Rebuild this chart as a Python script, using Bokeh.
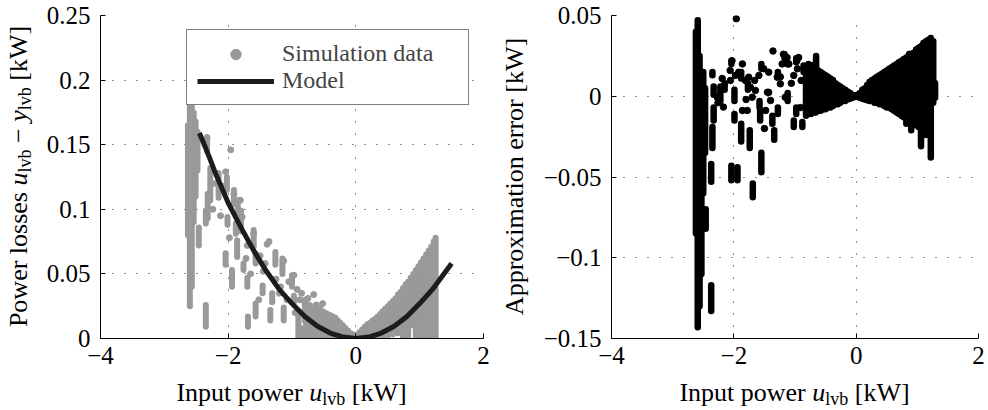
from bokeh.plotting import figure
from bokeh.layouts import row, column
from bokeh.models import (Range1d, FixedTicker, CustomJSTickFormatter, Div,
                          Legend, LegendItem)
from bokeh.embed import file_html
from bokeh.resources import INLINE

# ---------------- data ----------------
x_ticks = [-4, -2, 0, 2]
loss_ticks = [0, 0.05, 0.1, 0.15, 0.2, 0.25]
err_ticks = [-0.15, -0.1, -0.05, 0, 0.05]

# model curve (power losses vs input power)
model_x = [-2.45, -2.3, -2.2, -2.0, -1.8, -1.6, -1.4, -1.2, -1.0, -0.8, -0.6,
           -0.4, -0.2, 0.0, 0.2, 0.4, 0.6, 0.8, 1.0, 1.2, 1.35, 1.5]
model_y = [0.159, 0.141, 0.128, 0.105, 0.086, 0.068, 0.052, 0.038, 0.027,
           0.017, 0.0095, 0.0042, 0.0011, 0.0, 0.0011, 0.0042, 0.0095, 0.017,
           0.027, 0.038, 0.048, 0.058]

# simulation data: isolated samples
sim_dot_x = [-2.33, -1.96, -2.04, -1.78, -1.36, -0.97, -1.13, -1.39, -1.60,
             -1.81, -1.91, -2.10, -1.70, -1.50, -1.25, -1.05, -0.92, -0.88,
             -2.20, -1.65, -1.45, -1.20, -0.85, -0.80, -0.75, -0.70, -0.62,
             -0.58, -2.24, -2.12, -1.98, -1.72, -1.52, -1.42, -1.18, -1.08,
             -0.95, -0.78, -0.66, -0.52]
sim_dot_y = [0.155, 0.146, 0.129, 0.094, 0.075, 0.049, 0.060, 0.073, 0.081,
             0.107, 0.112, 0.118, 0.072, 0.064, 0.046, 0.044, 0.038, 0.030,
             0.120, 0.050, 0.052, 0.035, 0.035, 0.028, 0.031, 0.022, 0.026,
             0.018, 0.100, 0.095, 0.078, 0.062, 0.030, 0.058, 0.040, 0.030,
             0.020, 0.012, 0.034, 0.027]

# simulation data: vertical runs of stacked samples (x, lowest, highest)
sim_run_x = [-2.63, -2.60, -2.57, -2.54, -2.51, -2.48, -2.46, -2.35, -2.35,
             -2.33, -2.32, -2.28, -2.15, -2.02, -2.01, -2.04, -1.94, -1.91,
             -1.88, -1.86, -1.85, -1.80, -1.76, -1.70, -1.69, -1.60, -1.57,
             -1.57, -1.46, -1.34, -1.31, -1.26, -1.15, -1.13, -1.00, -0.97,
             -0.90,
             -0.84, -0.80, -0.76, -0.72, -0.68, -0.64, -0.60, -0.56, -0.52,
             -0.48, -0.44, -0.40, -0.36, -0.32, -0.28, -0.24, -0.20, -0.16,
             -0.12, -0.08, -0.04,
             0.02, 0.06, 0.10, 0.14, 0.18, 0.22, 0.26, 0.30, 0.34, 0.38, 0.42,
             0.46, 0.50, 0.54, 0.58, 0.62, 0.66, 0.70, 0.74, 0.78, 0.82, 0.86,
             0.90, 0.94, 0.98, 1.02, 1.06, 1.10, 1.14, 1.18, 1.22, 1.25]
sim_run_lo = [0.080, 0.025, 0.040, 0.090, 0.110, 0.130, 0.072, 0.009, 0.089,
              0.145, 0.093, 0.107, 0.109, 0.115, 0.088, 0.057, 0.040, 0.104,
              0.081, 0.063, 0.097, 0.083, 0.053, 0.040, 0.009, 0.071, 0.058,
              0.017, 0.035, 0.014, 0.028, 0.057, 0.050, 0.014, 0.040, 0.028,
              0.001,
              0.000, 0.014, 0.000, 0.016, 0.000, 0.006, 0.000, 0.002, 0.000,
              0.000, 0.000, 0.000, 0.000, 0.000, 0.000, 0.000, 0.000, 0.000,
              0.000, 0.000, 0.000,
              0.000, 0.000, 0.000, 0.000, 0.000, 0.000, 0.000, 0.001, 0.000,
              0.002, 0.001, 0.003, 0.002, 0.004, 0.003, 0.005, 0.004, 0.006,
              0.000, 0.008, 0.000, 0.010, 0.012, 0.000, 0.014, 0.000, 0.016,
              0.000, 0.000, 0.000, 0.000, 0.000]
sim_run_hi = [0.165, 0.180, 0.188, 0.175, 0.168, 0.160, 0.086, 0.026, 0.099,
              0.156, 0.112, 0.132, 0.128, 0.125, 0.094, 0.066, 0.053, 0.115,
              0.089, 0.076, 0.107, 0.099, 0.058, 0.047, 0.017, 0.084, 0.066,
              0.027, 0.041, 0.022, 0.035, 0.067, 0.062, 0.024, 0.049, 0.033,
              0.017,
              0.008, 0.030, 0.012, 0.026, 0.018, 0.024, 0.014, 0.023, 0.021,
              0.020, 0.019, 0.018, 0.017, 0.016, 0.014, 0.012, 0.010, 0.008,
              0.006, 0.004, 0.003,
              0.003, 0.005, 0.007, 0.009, 0.011, 0.012, 0.014, 0.015, 0.017,
              0.019, 0.021, 0.023, 0.025, 0.027, 0.029, 0.031, 0.034, 0.036,
              0.039, 0.042, 0.044, 0.047, 0.050, 0.053, 0.056, 0.059, 0.062,
              0.065, 0.068, 0.071, 0.075, 0.078]

# approximation error: isolated samples
err_dot_x = [-1.96, -1.36, -1.12, -1.66, -1.45, -1.06, -0.96, -0.90, -1.86,
             -2.03, -2.06, -1.43, -1.19, -1.13, -0.94, -1.24, -1.16, -0.91,
             -2.19, -2.26, -1.80, -1.50, 0.87,
             -2.056, -1.974, -1.92, -1.81, -1.757, -1.73, -1.70, -1.647,
             -1.59, -1.51, -1.43, -1.29, -1.24, -1.21, -1.13, -1.10, -1.02,
             -0.97, -0.83, -0.80, -0.72, -1.40, -1.48, -1.86, -1.78, -2.17,
             -2.27]
err_dot_y = [0.048, 0.028, 0.020, 0.0098, 0.0025, 0.008, 0.017, 0.0098,
             0.020, 0.022, 0.016, 0.0024, 0.026, 0.021, 0.024, 0.012, -0.0006,
             -0.007, 0.011, -0.004, -0.002, -0.020, 0.026,
             0.0098, 0.0129, 0.0149, 0.0098, 0.0118, 0.0056, -0.0006, 0.0036,
             0.0129, 0.017, 0.0149, 0.0118, 0.0077, 0.020, 0.024, 0.020,
             0.0129, 0.022, 0.016, 0.0118, 0.019, -0.0026, -0.0088, -0.0088,
             -0.0088, -0.0067, -0.0006]

# approximation error: vertical runs (x, lowest, highest)
err_run_x = [-2.62, -2.59, -2.56, -2.53, -2.50, -2.46, -2.47, -2.37, -2.35,
             -2.37, -2.33, -2.33, -2.35, -2.22, -2.15, -2.04, -2.04, -1.99,
             -1.99, -1.94, -1.88, -1.88, -1.77, -1.74, -1.69, -1.58, -1.57,
             -1.55, -1.55, -1.37, -1.34, -1.28, -1.28, -1.17, -1.12, -1.02,
             -0.98, -0.98, -0.88, -0.86, -0.79, -0.76, -0.655,
             -0.82, -0.78, -0.74, -0.70, -0.66, -0.62, -0.58, -0.54, -0.50,
             -0.46, -0.42, -0.38, -0.34, -0.30, -0.26, -0.22, -0.18, -0.14,
             -0.10, -0.06, -0.02,
             0.02, 0.06, 0.10, 0.14, 0.18, 0.22, 0.26, 0.30, 0.34, 0.38, 0.42,
             0.46, 0.50, 0.54, 0.58, 0.62, 0.66, 0.70, 0.74, 0.78, 0.82, 0.86,
             0.90, 0.94, 0.98, 1.02, 1.06, 1.10, 1.14, 1.18, 1.22, 1.26, 1.29]
err_run_lo = [-0.085, -0.143, -0.130, -0.110, -0.060, -0.082, -0.035, -0.133,
              -0.032, -0.053, -0.015, 0.001, 0.013, -0.003, 0.004, -0.052,
              0.020, -0.015, -0.003, -0.052, -0.028, 0.011, 0.004, -0.032,
              -0.0625, -0.007, -0.015, -0.047, 0.017, -0.017, -0.027, 0.012,
              -0.011, 0.0235, -0.003, -0.019, -0.011, 0.021, -0.019, 0.015,
              -0.010, 0.014, 0.018,
              -0.012, -0.011, -0.011, -0.010, -0.010, -0.009, -0.009, -0.008,
              -0.008, -0.007, -0.007, -0.006, -0.005, -0.005, -0.004, -0.003,
              -0.003, -0.002, -0.0015, -0.001, -0.0005,
              -0.0005, -0.001, -0.0015, -0.002, -0.0025, -0.003, -0.003,
              -0.004, -0.004, -0.005, -0.005, -0.006, -0.007, -0.007, -0.008,
              -0.009, -0.010, -0.011, -0.012, -0.013, -0.017, -0.015, -0.021,
              -0.016, -0.018, -0.019, -0.031, -0.022, -0.024, -0.020, -0.038,
              -0.004, -0.001]
err_run_hi = [0.040, 0.047, 0.025, 0.010, 0.015, -0.070, 0.005, -0.117,
              -0.019, -0.042, -0.007, 0.006, 0.015, 0.006, 0.008, -0.043,
              0.022, -0.011, 0.004, -0.044, -0.017, 0.015, 0.008, -0.021,
              -0.054, -0.003, -0.009, -0.035, 0.020, -0.012, -0.021, 0.015,
              -0.007, 0.026, 0.002, -0.015, -0.007, 0.0235, -0.016, 0.019,
              -0.007, 0.017, 0.025,
              0.016, 0.020, 0.019, 0.018, 0.017, 0.016, 0.015, 0.014, 0.013,
              0.012, 0.011, 0.010, 0.008, 0.007, 0.006, 0.005, 0.004, 0.003,
              0.002, 0.001, 0.0005,
              0.001, 0.002, 0.004, 0.005, 0.007, 0.009, 0.010, 0.011, 0.012,
              0.013, 0.014, 0.015, 0.016, 0.017, 0.018, 0.019, 0.020, 0.021,
              0.022, 0.023, 0.024, 0.025, 0.026, 0.027, 0.029, 0.030, 0.031,
              0.033, 0.034, 0.035, 0.036, 0.034, 0.008]

# ---------------- styling ----------------
FONT = "Liberation Serif"
TICK = 25
LEG = 24
GRAY = "#999999"
LINE = "#1c1c1c"

TXT = ("font-family:'Liberation Serif',serif;font-size:26px;line-height:26px;"
       "color:#000;white-space:nowrap;margin:0;padding:0;")
SUBS = "font-size:18px;position:relative;top:4px;"


def sub(s):
    return f'<span style="{SUBS}">{s}</span>'


def xlabel_div(width, frame_left, frame_width):
    html = (f'<div style="position:relative;width:{width}px;height:30px;'
            f'margin:0;padding:0;overflow:visible;">'
            f'<div style="position:absolute;left:{frame_left}px;top:0px;'
            f'width:{frame_width}px;text-align:center;{TXT}">'
            f'Input power <i>u</i>{sub("lvb")} [kW]</div></div>')
    return Div(text=html, width=width, height=30, margin=0)


def ylabel_div(width, left, content):
    html = (f'<div style="position:relative;width:{width}px;height:410px;'
            f'margin:0;padding:0;overflow:visible;">'
            f'<div style="position:absolute;left:{left}px;top:341px;'
            f'width:329px;height:26px;transform-origin:0 0;'
            f'transform:rotate(-90deg);text-align:center;{TXT}">'
            f'{content}</div></div>')
    return Div(text=html, width=width, height=410, margin=0)


minus_fmt = "return String(tick).replace('-', '\\u2212');"


def make_fig(width, left, right, yr, yticks):
    p = figure(width=width, height=380, x_range=Range1d(-4, 2),
               y_range=Range1d(*yr), output_backend="svg",
               toolbar_location=None, min_border_left=left,
               min_border_right=right, min_border_top=15,
               min_border_bottom=42, margin=0)
    p.outline_line_color = None
    p.background_fill_color = "white"
    p.border_fill_color = "white"
    p.xaxis.ticker = FixedTicker(ticks=x_ticks)
    p.yaxis.ticker = FixedTicker(ticks=yticks)
    for ax in (p.xaxis, p.yaxis):
        ax.formatter = CustomJSTickFormatter(code=minus_fmt)
        ax.major_label_text_font = FONT
        ax.major_label_text_font_size = f"{TICK}px"
        ax.major_label_text_color = "black"
        ax.axis_line_color = "black"
        ax.axis_line_width = 1
        ax.major_tick_in = 5
        ax.major_tick_out = 0
        ax.major_tick_line_color = "black"
        ax.minor_tick_line_color = None
    p.xaxis.major_label_standoff = 8
    p.yaxis.major_label_standoff = 10
    for g in (p.xgrid, p.ygrid):
        g.grid_line_color = "#222222"
        g.grid_line_dash = "1 11"
        g.grid_line_width = 1
    return p


# ---------------- left: power losses ----------------
p1 = make_fig(454, 60, 11, (0, 0.25), loss_ticks)
p1.segment(x0=sim_run_x, y0=sim_run_lo, x1=sim_run_x, y1=sim_run_hi,
           line_width=6, line_cap="round", color=GRAY)
r_dots = p1.scatter(sim_dot_x, sim_dot_y, size=6, color=GRAY)
r_model = p1.line(model_x, model_y, line_width=5, color=LINE)

legend = Legend(items=[LegendItem(label="Simulation data", renderers=[r_dots]),
                       LegendItem(label="Model", renderers=[r_model])],
                location="top_right")
legend.margin = 14
legend.padding = 10
legend.spacing = 0
legend.glyph_width = 77
legend.glyph_height = 26
legend.label_standoff = 8
legend.label_width = 176
legend.label_text_font = FONT
legend.label_text_font_size = f"{LEG}px"
legend.border_line_color = "black"
legend.border_line_width = 1
legend.background_fill_alpha = 1.0
p1.add_layout(legend)

# ---------------- right: approximation error ----------------
p2 = make_fig(449, 72, 10, (-0.15, 0.05), err_ticks)
p2.segment(x0=err_run_x, y0=err_run_lo, x1=err_run_x, y1=err_run_hi,
           line_width=6.5, line_cap="round", color="black")
p2.scatter(err_dot_x, err_dot_y, size=6.5, color="black")

# ---------------- axis titles (real text with italics / subscripts) -------
y1 = ylabel_div(40, 6, f'Power losses <i>u</i>{sub("lvb")} \u2212 '
                       f'<i>y</i>{sub("lvb")} [kW]')
x1 = xlabel_div(454, 60, 383)
y2 = ylabel_div(45, 8, 'Approximation error [kW]')
x2 = xlabel_div(449, 72, 367)

layout = row(y1, column(p1, x1, spacing=0, margin=0), y2,
             column(p2, x2, spacing=0, margin=0), spacing=0, margin=0)
open("out.html", "w").write(file_html(layout, INLINE))
